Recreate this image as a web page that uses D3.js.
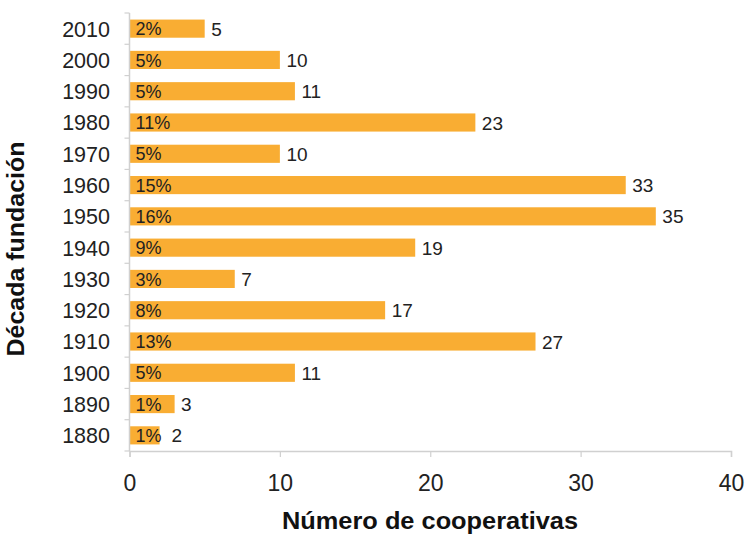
<!DOCTYPE html>
<html>
<head>
<meta charset="utf-8">
<script src="https://cdn.jsdelivr.net/npm/d3@7"></script>
<style>
  html, body { margin: 0; padding: 0; background: #fff; }
  svg { display: block; font-family: "Liberation Sans", Arial, Helvetica, sans-serif; }
</style>
</head>
<body>
<svg id="chart" width="745" height="537"></svg>
<script>
const decades = ["2010","2000","1990","1980","1970","1960","1950","1940","1930","1920","1910","1900","1890","1880"];
const counts  = [5, 10, 11, 23, 10, 33, 35, 19, 7, 17, 27, 11, 3, 2];
const shares  = ["2%","5%","5%","11%","5%","15%","16%","9%","3%","8%","13%","5%","1%","1%"];
const xTicks  = [0, 10, 20, 30, 40];
const xTitle = "Número de cooperativas";
const yTitle = "Década fundación";

(function () {
const svg = d3.select("#chart");
const pLeft = 129.5, pRight = 731, pTop = 13, pBottom = 451;

const x = d3.scaleLinear().domain([0, 40]).range([pLeft, pRight]);
const y = d3.scaleBand().domain(decades).range([pTop, pBottom]).paddingInner(0.42).paddingOuter(0.21);

const barColor = "#F9AD33";
const textColor = "#222";
const axisColor = "#d0d0d0";

// bars
svg.append("g").selectAll("rect").data(decades).join("rect")
  .attr("x", x(0))
  .attr("y", d => y(d))
  .attr("width", (d, i) => x(counts[i]) - x(0))
  .attr("height", y.bandwidth())
  .attr("fill", barColor);

// percentage labels inside bars
const pct = svg.append("g").selectAll("text").data(decades).join("text")
  .attr("x", x(0) + 6)
  .attr("y", d => y(d) + y.bandwidth() / 2)
  .attr("dy", "0.37em")
  .attr("font-size", 18)
  .attr("fill", textColor)
  .text((d, i) => shares[i]);
const pctEnd = pct.nodes().map(n => x(0) + 6 + n.getComputedTextLength());

// value labels
svg.append("g").selectAll("text").data(decades).join("text")
  .attr("x", (d, i) => Math.max(x(counts[i]) + 6.5, pctEnd[i] + 10))
  .attr("y", d => y(d) + y.bandwidth() / 2)
  .attr("dy", "0.37em")
  .attr("font-size", 19)
  .attr("fill", textColor)
  .text((d, i) => counts[i]);

// x axis
const xAxis = svg.append("g").attr("transform", `translate(0,${pBottom})`)
  .call(d3.axisBottom(x).tickValues(xTicks).tickSize(6).tickPadding(18).tickFormat(d3.format("d")));
xAxis.select(".domain").attr("stroke", axisColor).attr("stroke-width", 1.5);
xAxis.selectAll(".tick line").attr("stroke", axisColor).attr("stroke-width", 1.2);
xAxis.selectAll(".tick text").attr("font-size", 23).attr("fill", textColor)
  .attr("font-family", "'Liberation Sans', Arial, sans-serif");

// y axis line with ticks at band boundaries
svg.append("line")
  .attr("x1", pLeft).attr("x2", pLeft).attr("y1", pTop).attr("y2", pBottom)
  .attr("stroke", axisColor).attr("stroke-width", 1.5);
const bounds = decades.map(d => y(d) - y.step() * y.paddingOuter());
bounds.push(pBottom);
svg.append("g").selectAll("line").data(bounds).join("line")
  .attr("x1", pLeft - 5).attr("x2", pLeft)
  .attr("y1", d => d).attr("y2", d => d)
  .attr("stroke", axisColor).attr("stroke-width", 1.2);

// y tick labels
svg.append("g").selectAll("text").data(decades).join("text")
  .attr("x", 110)
  .attr("y", d => y(d) + y.bandwidth() / 2)
  .attr("dy", "0.37em")
  .attr("text-anchor", "end")
  .attr("font-size", 21.5)
  .attr("fill", textColor)
  .text(d => d);

// axis titles
svg.append("text")
  .attr("x", 430).attr("y", 529)
  .attr("text-anchor", "middle")
  .attr("font-size", 24).attr("font-weight", "bold")
  .attr("fill", "#111")
  .attr("textLength", 296).attr("lengthAdjust", "spacingAndGlyphs")
  .text(xTitle);

svg.append("text")
  .attr("transform", "translate(24,249) rotate(-90)")
  .attr("text-anchor", "middle")
  .attr("font-size", 24).attr("font-weight", "bold")
  .attr("fill", "#111")
  .attr("textLength", 215).attr("lengthAdjust", "spacingAndGlyphs")
  .text(yTitle);
})();
</script>
</body>
</html>
